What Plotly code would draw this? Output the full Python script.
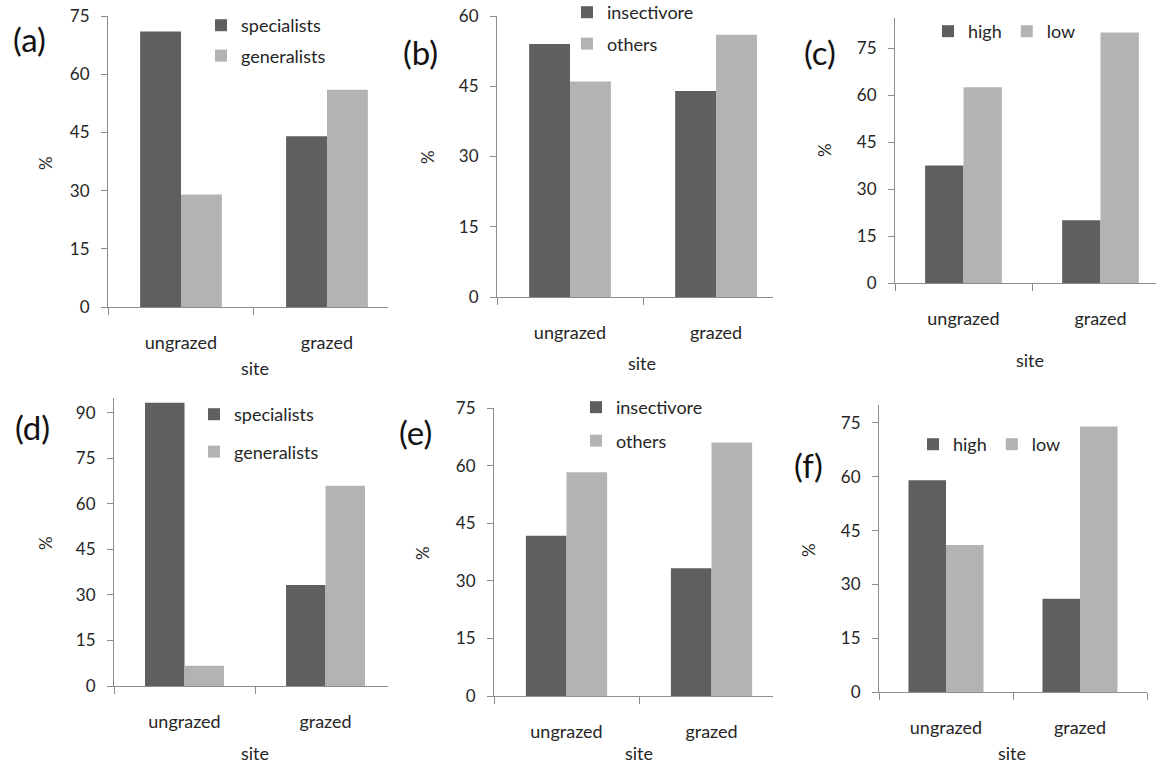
import plotly.graph_objects as go

W, H = 1156, 766

sites = ["ungrazed", "grazed"]

a_specialists = [71, 44]
a_generalists = [29, 56]
b_insectivore = [54, 44]
b_others = [46, 56]
c_high = [37.5, 20]
c_low = [62.5, 80]
d_specialists = [93.3, 33.3]
d_generalists = [6.7, 66]
e_insectivore = [41.7, 33.3]
e_others = [58.3, 66]
f_high = [59, 26]
f_low = [41, 74]

y_ticks = [0, 15, 30, 45, 60, 75, 90]

DARK = "#5f5f5f"
LIGHT = "#b3b3b3"
AXIS = "#8c8c8c"
TXT = "#262626"
FONT = "Lato"


def fx(px):
    return px / W


def fy(py):
    return 1 - py / H


panels = [
    dict(key="a", names=("specialists", "generalists"), vals=(a_specialists, a_generalists),
         x0=108, x1=388, yb=307, yt=16, xend=1.418, ymax=75,
         lbl=(29, 39), pct=(45, 163), site=(255, 368),
         leg=dict(x=225, y=26, gap=31, orient="v")),
    dict(key="b", names=("insectivore", "others"), vals=(b_insectivore, b_others),
         x0=497, x1=773, yb=297, yt=16, xend=1.39, ymax=60,
         lbl=(420, 52), pct=(428, 157), site=(642, 363),
         leg=dict(x=591, y=13, gap=32, orient="v")),
    dict(key="c", names=("high", "low"), vals=(c_high, c_low),
         x0=895, x1=1156, yb=283, yt=18, xend=1.405, ymax=84.6,
         lbl=(820, 52), pct=(825, 150), site=(1030, 360),
         leg=dict(x=952, y=32, gap=0, orient="h")),
    dict(key="d", names=("specialists", "generalists"), vals=(d_specialists, d_generalists),
         x0=114, x1=388, yb=686, yt=398, xend=1.443, ymax=94.9,
         lbl=(32, 427), pct=(45, 543), site=(255, 753),
         leg=dict(x=218, y=415, gap=38, orient="v")),
    dict(key="e", names=("insectivore", "others"), vals=(e_insectivore, e_others),
         x0=494, x1=773, yb=696, yt=408, xend=1.424, ymax=75,
         lbl=(415, 432), pct=(422, 553), site=(639, 753),
         leg=dict(x=600, y=408, gap=34, orient="v")),
    dict(key="f", names=("high", "low"), vals=(f_high, f_low),
         x0=879, x1=1147, yb=692, yt=405, xend=1.5, ymax=80,
         lbl=(808, 465), pct=(808, 550), site=(1012, 753),
         leg=dict(x=937, y=445, gap=0, orient="h")),
]

fig = go.Figure()
annotations = []
layout = {}

for i, p in enumerate(panels):
    n = i + 1
    xa = "x" if n == 1 else f"x{n}"
    ya = "y" if n == 1 else f"y{n}"
    legname = "legend" if n == 1 else f"legend{n}"
    for j, (name, vals, col) in enumerate(zip(p["names"], p["vals"], (DARK, LIGHT))):
        fig.add_trace(go.Bar(
            x=sites, y=vals, name=name, marker=dict(color=col, line=dict(width=0)),
            xaxis=xa, yaxis=ya, legend=legname, legendgroup=f"{p['key']}{j}",
            hoverinfo="x+y+name",
        ))
    layout[f"xaxis{'' if n == 1 else n}"] = dict(
        domain=[fx(p["x0"]), fx(p["x1"])], anchor=ya, type="category",
        range=[-0.5, p["xend"]], showline=True, linecolor=AXIS, linewidth=1,
        ticks="outside", tickson="boundaries", ticklen=7, tickcolor=AXIS,
        showgrid=False, zeroline=False, ticklabelstandoff=19,
        tickfont=dict(family=FONT, size=18, color=TXT), fixedrange=True,
    )
    layout[f"yaxis{'' if n == 1 else n}"] = dict(
        domain=[fy(p["yb"]), fy(p["yt"])], anchor=xa,
        range=[0, p["ymax"]], tickvals=[t for t in y_ticks if t <= p["ymax"]],
        showline=True, linecolor=AXIS, linewidth=1,
        ticks="outside", ticklen=6, tickcolor=AXIS,
        showgrid=False, zeroline=False, ticklabelstandoff=8,
        tickfont=dict(family=FONT, size=17, color=TXT), fixedrange=True,
    )
    lg = p["leg"]
    layout[legname] = dict(
        x=fx(lg["x"] - 24), y=fy(lg["y"] - 19), xanchor="left", yanchor="top",
        bgcolor="rgba(0,0,0,0)", borderwidth=0,
        font=dict(family=FONT, size=18, color=TXT),
        orientation=lg["orient"], tracegroupgap=max(lg["gap"] - 27, 0),
        itemclick=False, itemdoubleclick=False,
    )
    common = dict(xref="paper", yref="paper", showarrow=False,
                  xanchor="center", yanchor="middle")
    annotations.append(dict(text=f"({p['key']})", x=fx(p["lbl"][0]), y=fy(p["lbl"][1]),
                            font=dict(family=FONT, size=33, color="#111111"), **common))
    annotations.append(dict(text="%", x=fx(p["pct"][0]), y=fy(p["pct"][1]), textangle=-90,
                            font=dict(family=FONT, size=17, color=TXT), **common))
    annotations.append(dict(text="site", x=fx(p["site"][0]), y=fy(p["site"][1]),
                            font=dict(family=FONT, size=18, color=TXT), **common))

fig.update_layout(
    width=W, height=H, margin=dict(l=0, r=0, t=0, b=0, autoexpand=False),
    paper_bgcolor="white", plot_bgcolor="white",
    barmode="group", bargap=0.44, bargroupgap=0,
    annotations=annotations, showlegend=True,
    **layout,
)

fig.write_html(
    "out.html",
    config={"displayModeBar": False},
    post_script="document.body.style.margin='0';document.body.style.overflow='hidden';",
)
